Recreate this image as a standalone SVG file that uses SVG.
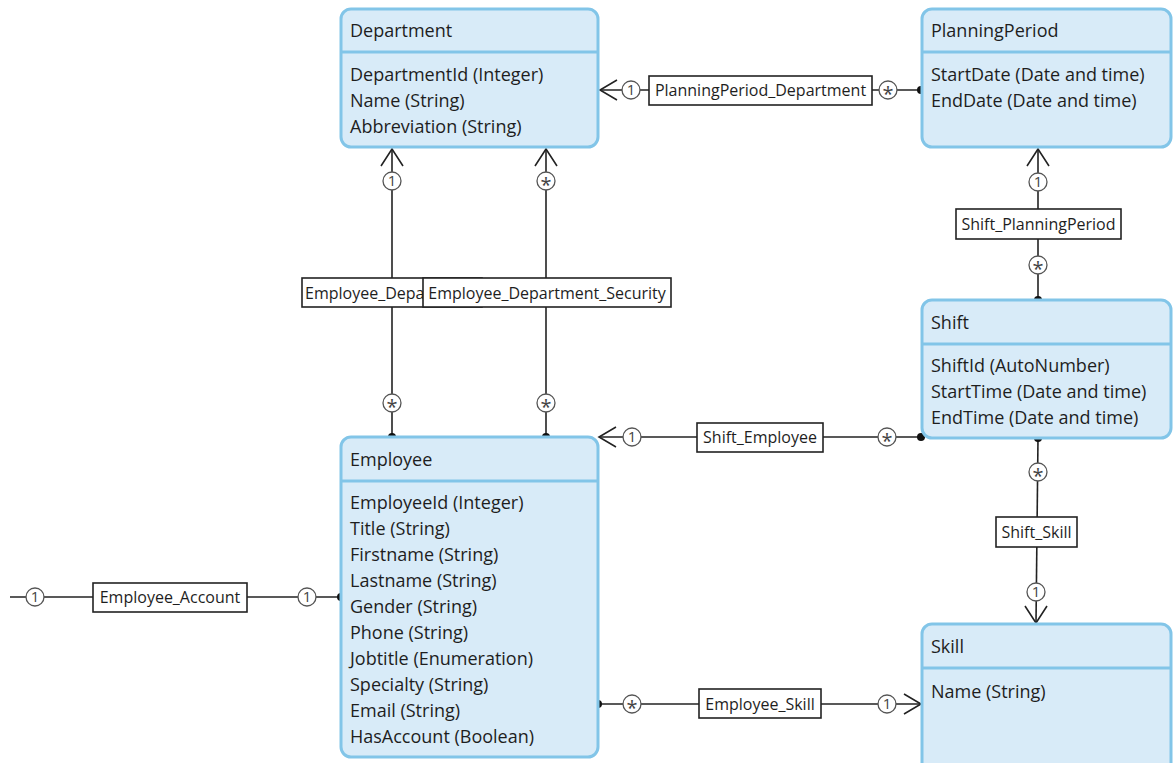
<svg xmlns="http://www.w3.org/2000/svg" width="1173" height="763" viewBox="0 0 1173 763">
<style>
.box{fill:#d8ebf8;stroke:#82c5e8;stroke-width:3}
.sep{stroke:#82c5e8;stroke-width:3}
.t{font-family:"Open Sans","Noto Sans",sans-serif;font-size:18px;fill:#1e1e1e}
.ln{stroke:#222;stroke-width:1.6;fill:none}
.lb{fill:#fff;stroke:#222;stroke-width:1.6}
.lt{font-family:"Open Sans","Noto Sans",sans-serif;font-size:16px;fill:#1e1e1e;text-anchor:middle}
.c{fill:#fff;stroke:#555;stroke-width:1.3}
.ct{font-family:"Open Sans","Noto Sans",sans-serif;font-size:15px;fill:#444;text-anchor:middle}
.cs{font-family:"Open Sans","Noto Sans",sans-serif;font-size:20px;fill:#444;text-anchor:middle}
.dot{fill:#111}
</style>
<rect width="1173" height="763" fill="#fff"/>
<g id="connectors">
  <g id="c-pp-dept">
    <line class="ln" x1="600" y1="90" x2="921" y2="90"/>
    <path class="ln" d="M617,80 L600,90 L617,100"/>
    <circle class="dot" cx="921" cy="90" r="4"/>
    <rect class="lb" x="649" y="76" width="223" height="29"/>
    <text class="lt" x="760.5" y="96">PlanningPeriod_Department</text>
    <circle class="c" cx="631" cy="90" r="9"/><text class="ct" x="631" y="95.2">1</text>
    <circle class="c" cx="888" cy="90" r="9"/><text class="cs" x="888" y="100.5">*</text>
  </g>
  <g id="c-emp-dept">
    <line class="ln" x1="392" y1="149" x2="392" y2="437"/>
    <path class="ln" d="M381,166 L392,149 L403,166"/>
    <circle class="dot" cx="392" cy="437" r="4"/>
    <rect class="lb" x="302" y="278" width="180" height="29"/>
    <text class="lt" x="305" y="299" style="text-anchor:start">Employee_Depa</text>
    <circle class="c" cx="392" cy="181" r="9"/><text class="ct" x="392" y="186.2">1</text>
    <circle class="c" cx="392" cy="403" r="9"/><text class="cs" x="392" y="413.5">*</text>
  </g>
  <g id="c-emp-dept-sec">
    <line class="ln" x1="546" y1="149" x2="546" y2="437"/>
    <path class="ln" d="M535,166 L546,149 L557,166"/>
    <circle class="dot" cx="546" cy="437" r="4"/>
    <rect class="lb" x="423" y="278" width="248" height="29"/>
    <text class="lt" x="547" y="299">Employee_Department_Security</text>
    <circle class="c" cx="546" cy="181" r="9"/><text class="cs" x="546" y="191.5">*</text>
    <circle class="c" cx="546" cy="403" r="9"/><text class="cs" x="546" y="413.5">*</text>
  </g>
  <g id="c-shift-pp">
    <line class="ln" x1="1038" y1="149" x2="1038" y2="300"/>
    <path class="ln" d="M1027,166 L1038,149 L1049,166"/>
    <circle class="dot" cx="1038" cy="300" r="4"/>
    <rect class="lb" x="956" y="209" width="165" height="30"/>
    <text class="lt" x="1038.5" y="230">Shift_PlanningPeriod</text>
    <circle class="c" cx="1038" cy="182" r="9"/><text class="ct" x="1038" y="187.2">1</text>
    <circle class="c" cx="1038" cy="265" r="9"/><text class="cs" x="1038" y="275.5">*</text>
  </g>
  <g id="c-shift-emp">
    <line class="ln" x1="599" y1="437" x2="921" y2="437"/>
    <path class="ln" d="M616,427 L599,437 L616,447"/>
    <circle class="dot" cx="921" cy="437" r="4"/>
    <rect class="lb" x="697" y="423" width="126" height="29"/>
    <text class="lt" x="760" y="443">Shift_Employee</text>
    <circle class="c" cx="632" cy="437" r="9"/><text class="ct" x="632" y="442.2">1</text>
    <circle class="c" cx="887" cy="437" r="9"/><text class="cs" x="887" y="447.5">*</text>
  </g>
  <g id="c-shift-skill">
    <line class="ln" x1="1038" y1="438" x2="1036" y2="623"/>
    <path class="ln" d="M1025,606 L1036,623 L1047,606"/>
    <circle class="dot" cx="1038" cy="438" r="4"/>
    <rect class="lb" x="996" y="517" width="81" height="30"/>
    <text class="lt" x="1036.5" y="538">Shift_Skill</text>
    <circle class="c" cx="1038" cy="472" r="9"/><text class="cs" x="1038" y="482.5">*</text>
    <circle class="c" cx="1036" cy="592" r="9"/><text class="ct" x="1036" y="597.2">1</text>
  </g>
  <g id="c-emp-account">
    <line class="ln" x1="10" y1="597" x2="341" y2="597"/>
    <circle class="dot" cx="341" cy="597" r="4"/>
    <rect class="lb" x="93" y="583" width="154" height="29"/>
    <text class="lt" x="170" y="603">Employee_Account</text>
    <circle class="c" cx="35" cy="597" r="9"/><text class="ct" x="35" y="602.2">1</text>
    <circle class="c" cx="307" cy="597" r="9"/><text class="ct" x="307" y="602.2">1</text>
  </g>
  <g id="c-emp-skill">
    <line class="ln" x1="598" y1="704" x2="921" y2="704"/>
    <path class="ln" d="M904,694 L921,704 L904,714"/>
    <circle class="dot" cx="598" cy="704" r="4"/>
    <rect class="lb" x="699" y="689" width="122" height="29"/>
    <text class="lt" x="760" y="710">Employee_Skill</text>
    <circle class="c" cx="632" cy="704" r="9"/><text class="cs" x="632" y="714.5">*</text>
    <circle class="c" cx="887" cy="704" r="9"/><text class="ct" x="887" y="709.2">1</text>
  </g>
</g>
<g id="department">
  <rect class="box" x="341" y="9" width="257" height="138" rx="10"/>
  <line class="sep" x1="342" y1="52" x2="597" y2="52"/>
  <text class="t" x="350" y="37">Department</text>
  <text class="t" x="350" y="81">DepartmentId (Integer)</text>
  <text class="t" x="350" y="107">Name (String)</text>
  <text class="t" x="350" y="133">Abbreviation (String)</text>
</g>
<g id="planningperiod">
  <rect class="box" x="922" y="9" width="249" height="138" rx="10"/>
  <line class="sep" x1="923" y1="52" x2="1170" y2="52"/>
  <text class="t" x="931" y="37">PlanningPeriod</text>
  <text class="t" x="931" y="81">StartDate (Date and time)</text>
  <text class="t" x="931" y="107">EndDate (Date and time)</text>
</g>
<g id="shift">
  <rect class="box" x="922" y="300" width="249" height="138" rx="10"/>
  <line class="sep" x1="923" y1="344" x2="1170" y2="344"/>
  <text class="t" x="931" y="329">Shift</text>
  <text class="t" x="931" y="372">ShiftId (AutoNumber)</text>
  <text class="t" x="931" y="398">StartTime (Date and time)</text>
  <text class="t" x="931" y="424">EndTime (Date and time)</text>
</g>
<g id="employee">
  <rect class="box" x="341" y="437" width="257" height="320" rx="10"/>
  <line class="sep" x1="342" y1="481" x2="597" y2="481"/>
  <text class="t" x="350" y="466">Employee</text>
  <text class="t" x="350" y="509">EmployeeId (Integer)</text>
  <text class="t" x="350" y="535">Title (String)</text>
  <text class="t" x="350" y="561">Firstname (String)</text>
  <text class="t" x="350" y="587">Lastname (String)</text>
  <text class="t" x="350" y="613">Gender (String)</text>
  <text class="t" x="350" y="639">Phone (String)</text>
  <text class="t" x="350" y="665">Jobtitle (Enumeration)</text>
  <text class="t" x="350" y="691">Specialty (String)</text>
  <text class="t" x="350" y="717">Email (String)</text>
  <text class="t" x="350" y="743">HasAccount (Boolean)</text>
</g>
<g id="skill">
  <rect class="box" x="922" y="624" width="249" height="150" rx="10"/>
  <line class="sep" x1="923" y1="668" x2="1170" y2="668"/>
  <text class="t" x="931" y="653">Skill</text>
  <text class="t" x="931" y="698">Name (String)</text>
</g>
</svg>
